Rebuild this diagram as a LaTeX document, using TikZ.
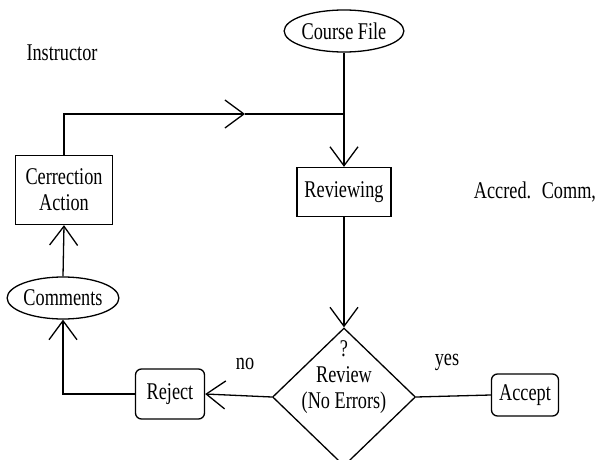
\documentclass[tikz,border=0pt]{standalone}
\usepackage{fontspec}
\setmainfont{Liberation Serif}[FakeStretch=0.76]
\usetikzlibrary{arrows.meta,shapes.geometric}
\tikzset{
every picture/.style={line width=1.3pt}
}
\tikzset{
  procbox/.style={draw, rectangle, align=center, inner sep=2pt},
  termbox/.style={draw, ellipse, inner sep=0pt, minimum height=42pt},
  choicebox/.style={draw, rectangle, rounded corners=6pt, inner sep=2pt},
  decision/.style={draw, diamond, inner sep=0pt, minimum width=143pt, minimum height=138pt}
}

\begin{document}
\begin{tikzpicture}[x=1pt, y=-1pt, font=\fontsize{24}{26}\selectfont,
    >={Straight Barb[length=19pt,width=28pt]}]
  \clip (0,0) rectangle (603,460);
  % side labels
  \node (instr) at (62,53) {Instructor};
  \node (accred) at (535,192) {Accred.~ Comm,};
  % flow
  \node[termbox, minimum width=116pt] (cfile) at (344,31) {Course File};
  \node[procbox, minimum width=94pt, minimum height=49pt] (rview) at (344,192) {Reviewing};
  \node[decision] (check) at (344,397) {};
  \node[align=center] (checktext) at (344,377) {?\\Review\\(No Errors)};
  \node[choicebox, minimum width=69pt, minimum height=50pt] (reject) at (170,394) {Reject};
  \node[choicebox, minimum width=67pt, minimum height=42pt] (accept) at (525,395) {Accept};
  \node[termbox, minimum width=95pt] (cmts) at (63,298) {Comments};
  \node[procbox, minimum width=97pt, minimum height=69pt] (corr) at (64,190) {Cerrection\\Action};
  \node (nolab) at (245,364) {no};
  \node (yeslab) at (447,362) {yes};
  \coordinate (mid) at (245,114);
  \coordinate (join) at (344,114);
  % connectors
  \draw[->] (cfile.south) -- (rview.north);
  \draw[->] (rview.south) -- (check.north);
  \draw[->] (check.west) -- (reject.east);
  \draw (check.east) -- (accept.west);
  \draw[->] (reject.west) -| (cmts.south);
  \draw[->] (cmts.north) -- (corr.south);
  \draw[->] (corr.north) |- (mid);
  \draw (mid) -- (join);
\end{tikzpicture}
\end{document}
